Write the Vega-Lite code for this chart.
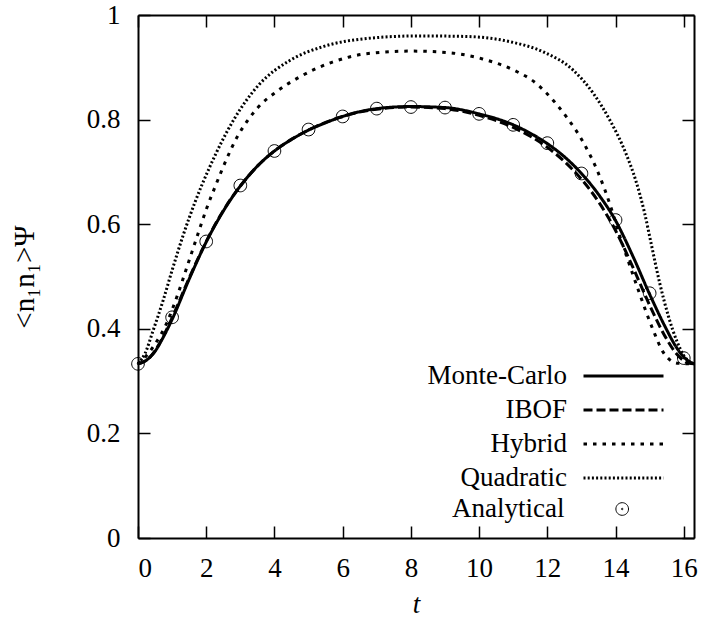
{
  "$schema": "https://vega.github.io/schema/vega-lite/v6.json",
  "width": 556,
  "height": 523,
  "autosize": "none",
  "padding": {"left": 138, "top": 15, "right": 9, "bottom": 87},
  "background": "white",
  "config": {
    "font": "Liberation Serif",
    "view": {"stroke": null},
    "axis": {
      "domainColor": "black", "domainWidth": 2, "tickColor": "black", "tickWidth": 1.5, "tickSize": -12,
      "labelFontSize": 27, "labelColor": "black", "labelFont": "Liberation Serif", "grid": false,
      "titleFontSize": 27, "titleFontWeight": "normal", "titleColor": "black", "titleFont": "Liberation Serif"
    },
    "legend": {
      "labelFontSize": 27, "labelColor": "black", "labelFont": "Liberation Serif", "padding": 0, "rowPadding": 6,
      "symbolStrokeColor": "black", "symbolFillColor": "transparent"
    }
  },
  "datasets": {
    "lines": [
      {"t":0,"v":0.333,"series":"Monte-Carlo"},{"t":0.25,"v":0.340,"series":"Monte-Carlo"},{"t":0.5,"v":0.357,"series":"Monte-Carlo"},{"t":0.75,"v":0.385,"series":"Monte-Carlo"},{"t":1,"v":0.418,"series":"Monte-Carlo"},{"t":1.5,"v":0.495,"series":"Monte-Carlo"},{"t":2,"v":0.566,"series":"Monte-Carlo"},{"t":2.5,"v":0.625,"series":"Monte-Carlo"},{"t":3,"v":0.673,"series":"Monte-Carlo"},{"t":3.5,"v":0.711,"series":"Monte-Carlo"},{"t":4,"v":0.740,"series":"Monte-Carlo"},{"t":4.5,"v":0.762,"series":"Monte-Carlo"},{"t":5,"v":0.780,"series":"Monte-Carlo"},{"t":5.5,"v":0.794,"series":"Monte-Carlo"},{"t":6,"v":0.806,"series":"Monte-Carlo"},{"t":7,"v":0.821,"series":"Monte-Carlo"},{"t":8,"v":0.825,"series":"Monte-Carlo"},{"t":9,"v":0.823,"series":"Monte-Carlo"},{"t":10,"v":0.811,"series":"Monte-Carlo"},{"t":11,"v":0.790,"series":"Monte-Carlo"},{"t":11.5,"v":0.774,"series":"Monte-Carlo"},{"t":12,"v":0.754,"series":"Monte-Carlo"},{"t":12.5,"v":0.729,"series":"Monte-Carlo"},{"t":13,"v":0.697,"series":"Monte-Carlo"},{"t":13.5,"v":0.657,"series":"Monte-Carlo"},{"t":14,"v":0.607,"series":"Monte-Carlo"},{"t":14.5,"v":0.540,"series":"Monte-Carlo"},{"t":15,"v":0.466,"series":"Monte-Carlo"},{"t":15.5,"v":0.398,"series":"Monte-Carlo"},{"t":15.75,"v":0.368,"series":"Monte-Carlo"},{"t":16,"v":0.346,"series":"Monte-Carlo"},{"t":16.15,"v":0.338,"series":"Monte-Carlo"},{"t":16.3,"v":0.333,"series":"Monte-Carlo"},
      {"t":0,"v":0.333,"series":"IBOF"},{"t":0.25,"v":0.340,"series":"IBOF"},{"t":0.5,"v":0.358,"series":"IBOF"},{"t":0.75,"v":0.387,"series":"IBOF"},{"t":1,"v":0.421,"series":"IBOF"},{"t":1.5,"v":0.497,"series":"IBOF"},{"t":2,"v":0.567,"series":"IBOF"},{"t":2.5,"v":0.626,"series":"IBOF"},{"t":3,"v":0.673,"series":"IBOF"},{"t":3.5,"v":0.711,"series":"IBOF"},{"t":4,"v":0.740,"series":"IBOF"},{"t":5,"v":0.780,"series":"IBOF"},{"t":6,"v":0.806,"series":"IBOF"},{"t":7,"v":0.820,"series":"IBOF"},{"t":8,"v":0.824,"series":"IBOF"},{"t":9,"v":0.821,"series":"IBOF"},{"t":10,"v":0.808,"series":"IBOF"},{"t":11,"v":0.785,"series":"IBOF"},{"t":12,"v":0.747,"series":"IBOF"},{"t":12.5,"v":0.720,"series":"IBOF"},{"t":13,"v":0.686,"series":"IBOF"},{"t":13.5,"v":0.643,"series":"IBOF"},{"t":14,"v":0.588,"series":"IBOF"},{"t":14.5,"v":0.519,"series":"IBOF"},{"t":15,"v":0.445,"series":"IBOF"},{"t":15.5,"v":0.380,"series":"IBOF"},{"t":15.75,"v":0.355,"series":"IBOF"},{"t":16,"v":0.339,"series":"IBOF"},{"t":16.15,"v":0.334,"series":"IBOF"},{"t":16.3,"v":0.333,"series":"IBOF"},
      {"t":0,"v":0.333,"series":"Hybrid"},{"t":0.2,"v":0.345,"series":"Hybrid"},{"t":0.45,"v":0.366,"series":"Hybrid"},{"t":0.85,"v":0.412,"series":"Hybrid"},{"t":1.15,"v":0.463,"series":"Hybrid"},{"t":1.45,"v":0.521,"series":"Hybrid"},{"t":1.75,"v":0.580,"series":"Hybrid"},{"t":2.0,"v":0.628,"series":"Hybrid"},{"t":2.3,"v":0.678,"series":"Hybrid"},{"t":2.6,"v":0.725,"series":"Hybrid"},{"t":2.9,"v":0.766,"series":"Hybrid"},{"t":3.2,"v":0.797,"series":"Hybrid"},{"t":3.5,"v":0.822,"series":"Hybrid"},{"t":4.05,"v":0.853,"series":"Hybrid"},{"t":4.75,"v":0.882,"series":"Hybrid"},{"t":5.7,"v":0.910,"series":"Hybrid"},{"t":6.7,"v":0.926,"series":"Hybrid"},{"t":8.0,"v":0.931,"series":"Hybrid"},{"t":9.1,"v":0.928,"series":"Hybrid"},{"t":10.1,"v":0.916,"series":"Hybrid"},{"t":11.1,"v":0.892,"series":"Hybrid"},{"t":11.6,"v":0.873,"series":"Hybrid"},{"t":12.0,"v":0.849,"series":"Hybrid"},{"t":12.55,"v":0.806,"series":"Hybrid"},{"t":13.05,"v":0.757,"series":"Hybrid"},{"t":13.5,"v":0.697,"series":"Hybrid"},{"t":13.85,"v":0.635,"series":"Hybrid"},{"t":14.1,"v":0.582,"series":"Hybrid"},{"t":14.36,"v":0.532,"series":"Hybrid"},{"t":14.7,"v":0.468,"series":"Hybrid"},{"t":15.1,"v":0.398,"series":"Hybrid"},{"t":15.4,"v":0.355,"series":"Hybrid"},{"t":15.65,"v":0.338,"series":"Hybrid"},{"t":15.85,"v":0.334,"series":"Hybrid"},{"t":16.3,"v":0.333,"series":"Hybrid"},
      {"t":0,"v":0.333,"series":"Quadratic"},{"t":0.2,"v":0.352,"series":"Quadratic"},{"t":0.45,"v":0.398,"series":"Quadratic"},{"t":0.75,"v":0.457,"series":"Quadratic"},{"t":1.0,"v":0.512,"series":"Quadratic"},{"t":1.33,"v":0.580,"series":"Quadratic"},{"t":1.67,"v":0.642,"series":"Quadratic"},{"t":2.1,"v":0.709,"series":"Quadratic"},{"t":2.8,"v":0.799,"series":"Quadratic"},{"t":3.55,"v":0.867,"series":"Quadratic"},{"t":4.45,"v":0.913,"series":"Quadratic"},{"t":5.45,"v":0.940,"series":"Quadratic"},{"t":6.7,"v":0.955,"series":"Quadratic"},{"t":8.2,"v":0.960,"series":"Quadratic"},{"t":9.6,"v":0.959,"series":"Quadratic"},{"t":10.9,"v":0.949,"series":"Quadratic"},{"t":11.9,"v":0.929,"series":"Quadratic"},{"t":12.75,"v":0.895,"series":"Quadratic"},{"t":13.35,"v":0.850,"series":"Quadratic"},{"t":13.85,"v":0.797,"series":"Quadratic"},{"t":14.3,"v":0.736,"series":"Quadratic"},{"t":14.6,"v":0.682,"series":"Quadratic"},{"t":14.85,"v":0.622,"series":"Quadratic"},{"t":15.05,"v":0.561,"series":"Quadratic"},{"t":15.3,"v":0.486,"series":"Quadratic"},{"t":15.55,"v":0.424,"series":"Quadratic"},{"t":15.8,"v":0.376,"series":"Quadratic"},{"t":16.0,"v":0.349,"series":"Quadratic"},{"t":16.15,"v":0.338,"series":"Quadratic"},{"t":16.3,"v":0.333,"series":"Quadratic"}
    ],
    "points": [
      {"t":0,"v":0.333,"series":"Analytical"},{"t":1,"v":0.422,"series":"Analytical"},{"t":2,"v":0.567,"series":"Analytical"},{"t":3,"v":0.674,"series":"Analytical"},{"t":4,"v":0.740,"series":"Analytical"},{"t":5,"v":0.781,"series":"Analytical"},{"t":6,"v":0.806,"series":"Analytical"},{"t":7,"v":0.821,"series":"Analytical"},{"t":8,"v":0.824,"series":"Analytical"},{"t":9,"v":0.823,"series":"Analytical"},{"t":10,"v":0.811,"series":"Analytical"},{"t":11,"v":0.790,"series":"Analytical"},{"t":12,"v":0.755,"series":"Analytical"},{"t":13,"v":0.697,"series":"Analytical"},{"t":14,"v":0.608,"series":"Analytical"},{"t":15,"v":0.468,"series":"Analytical"},{"t":16,"v":0.344,"series":"Analytical"}
    ]
  },
  "layer": [
    {
      "data": {"name": "lines"},
      "mark": {"type": "line", "interpolate": "monotone", "color": "black"},
      "encoding": {
        "x": {"field": "t", "type": "quantitative", "scale": {"domain": [0, 16.3], "nice": false},
              "axis": {"orient": "bottom", "values": [0,2,4,6,8,10,12,14,16], "title": "t", "titleFontStyle": "italic", "labelPadding": 29, "titlePadding": 10}},
        "y": {"field": "v", "type": "quantitative", "scale": {"domain": [0, 1], "nice": false},
              "axis": {"orient": "left", "values": [0,0.2,0.4,0.6,0.8,1], "format": "~g", "title": "<n₁n₁>Ψ", "titleFontSize": 29, "labelPadding": 30, "titlePadding": 47}},
        "strokeDash": {"field": "series", "type": "nominal",
              "scale": {"domain": ["Monte-Carlo","IBOF","Hybrid","Quadratic"], "range": [[1,0],[9,4],[3.5,6],[2,2.2]]},
              "legend": {"orient": "none", "legendX": 472, "legendY": 347.5, "title": null, "symbolType": "M-8,0H8", "symbolSize": 100, "labelAlign": "right", "labelOffset": -70}},
        "strokeWidth": {"field": "series", "type": "ordinal",
              "scale": {"domain": ["Monte-Carlo","IBOF","Hybrid","Quadratic"], "range": [3,3,3.5,2]},
              "legend": {"orient": "none", "legendX": 472, "legendY": 347.5, "title": null, "symbolType": "M-8,0H8", "symbolSize": 100, "labelAlign": "right", "labelOffset": -70}}
      }
    },
    {
      "data": {"name": "points"},
      "mark": {"type": "point", "filled": false, "size": 160, "strokeWidth": 1, "color": "black", "opacity": 1},
      "encoding": {
        "x": {"field": "t", "type": "quantitative", "axis": {"orient": "top", "values": [0,2,4,6,8,10,12,14,16], "labels": false, "title": null}},
        "y": {"field": "v", "type": "quantitative", "axis": {"orient": "right", "values": [0,0.2,0.4,0.6,0.8,1], "labels": false, "title": null}},
        "shape": {"field": "series", "type": "nominal",
              "scale": {"domain": ["Analytical"], "range": ["M1,0A1,1 0 1,1 -1,0A1,1 0 1,1 1,0Z M0.12,0A0.12,0.12 0 1,1 -0.12,0A0.12,0.12 0 1,1 0.12,0Z"]},
              "legend": {"orient": "none", "legendX": 470.7, "legendY": 480.5, "title": null, "symbolSize": 160, "symbolStrokeWidth": 1, "labelAlign": "right", "labelOffset": -71.3}}
      }
    }
  ],
  "resolve": {"axis": {"x": "independent", "y": "independent"}}
}
